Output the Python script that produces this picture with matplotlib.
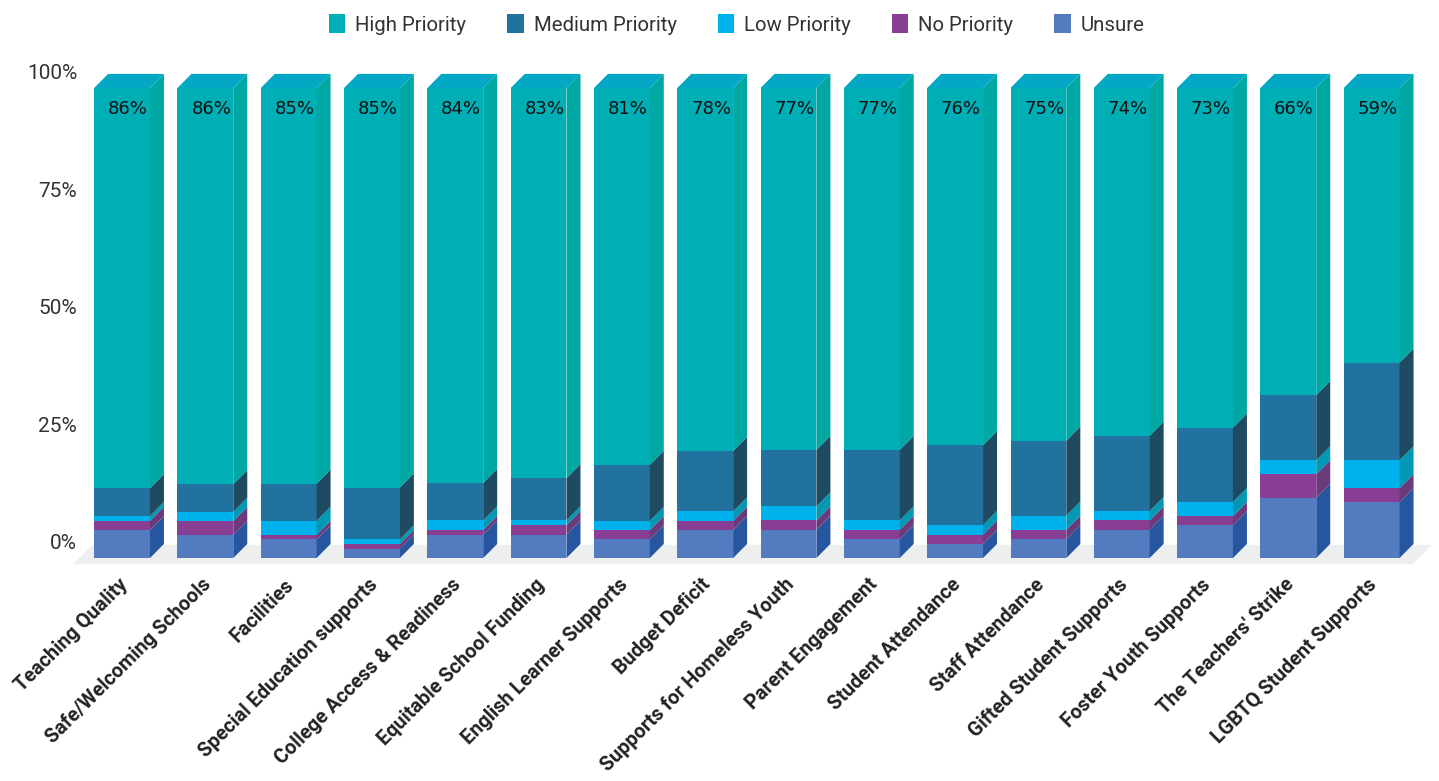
import matplotlib
matplotlib.use("Agg")
import numpy as np
import matplotlib.pyplot as plt
from matplotlib.patches import Polygon, Patch

plt.rcParams['font.family'] = ['Roboto', 'DejaVu Sans']

# categories and values (percent), bottom to top of each stack
topics = ["Teaching Quality", "Safe/Welcoming Schools", "Facilities",
          "Special Education supports", "College Access & Readiness",
          "Equitable School Funding", "English Learner Supports", "Budget Deficit",
          "Supports for Homeless Youth", "Parent Engagement", "Student Attendance",
          "Staff Attendance", "Gifted Student Supports", "Foster Youth Supports",
          "The Teachers' Strike", "LGBTQ Student Supports"]
unsure = [6, 5, 4, 2, 5, 5, 4, 6, 6, 4, 3, 4, 6, 7, 13, 12]
no_priority = [2, 3, 1, 1, 1, 2, 2, 2, 2, 2, 2, 2, 2, 2, 5, 3]
low_priority = [1, 2, 3, 1, 2, 1, 2, 2, 3, 2, 2, 3, 2, 3, 3, 6]
medium_priority = [6, 6, 8, 11, 8, 9, 12, 13, 12, 15, 17, 16, 16, 16, 14, 21]
high_priority = [86, 86, 85, 85, 84, 83, 81, 78, 77, 77, 76, 75, 74, 73, 66, 59]
yticks = [0, 25, 50, 75, 100]

series = [("Unsure", unsure), ("No Priority", no_priority), ("Low Priority", low_priority),
          ("Medium Priority", medium_priority), ("High Priority", high_priority)]
# front colour, side colour
colours = {"High Priority": ("#00afb5", "#00a8a4"),
           "Medium Priority": ("#22729f", "#1e4a62"),
           "Low Priority": ("#00b2ec", "#0098b2"),
           "No Priority": ("#873e93", "#6b3a7b"),
           "Unsure": ("#537cc0", "#2756a0")}
top_colour = "#03a8c4"

fig = plt.figure(figsize=(14.39, 7.81), dpi=100)
ax = fig.add_axes([0.0443, 0.2554, 0.9552, 0.662])
ax.set_xlim(-0.7, 15.8)
ax.set_ylim(-5, 105)
ax.axis('off')

n = len(topics)
x = np.arange(n)
w = 0.67      # bar width
dx = 0.168    # depth in x units
dy = 3.0      # depth in y units

# stack shares so every bar reaches 100%
vals = np.array([s for _, s in series], dtype=float)
share = vals / vals.sum(axis=0) * 100

# floor
ax.add_patch(Polygon([(-0.59, -1.3), (-0.35, 2.8), (15.72, 2.8), (15.49, -1.3)],
                     closed=True, fc="#edefef", ec="none", zorder=0))

bottom = np.zeros(n)
for k, (name, _) in enumerate(series):
    front, side = colours[name]
    h = share[k]
    ax.bar(x, h, width=w, bottom=bottom, color=front, zorder=2, linewidth=0)
    for i in range(n):
        xr = x[i] + w / 2
        y0, y1 = bottom[i], bottom[i] + h[i]
        ax.add_patch(Polygon([(xr, y0), (xr + dx, y0 + dy), (xr + dx, y1 + dy), (xr, y1)],
                             closed=True, fc=side, ec="none", zorder=2))
    bottom = bottom + h

# top faces
for i in range(n):
    xl, xr = x[i] - w / 2, x[i] + w / 2
    t = bottom[i]
    ax.add_patch(Polygon([(xl, t), (xl + dx, t + dy), (xr + dx, t + dy), (xr, t)],
                         closed=True, fc=top_colour, ec="none", zorder=2))

# labels on the high priority part
for i in range(n):
    ax.text(x[i] + 0.07, 95.5, f"{high_priority[i]}%", ha='center', va='center',
            fontsize=13, family='DejaVu Sans', color="#111111", zorder=3)

# y tick labels sit on the back plane
for v in yticks:
    ax.text(-0.54, v + dy, f"{v}%", ha='right', va='center', fontsize=15, color="#333333")

# category labels
for i in range(n):
    ax.text(x[i] - 0.05, -3.6, topics[i], rotation=45, ha='right', va='top',
            rotation_mode='anchor', fontsize=14.3, fontweight='bold', color="#222222")

handles = [Patch(facecolor=colours[name][0], edgecolor='none', label=name)
           for name, _ in series[::-1]]
fig.legend(handles=handles, loc='upper center', bbox_to_anchor=(0.512, 1.005), ncol=5,
           frameon=False, fontsize=14.7, handlelength=0.8, handleheight=1.0,
           handletextpad=0.5, columnspacing=2.0, labelcolor="#333333")

fig.savefig("out.png", dpi=100)
